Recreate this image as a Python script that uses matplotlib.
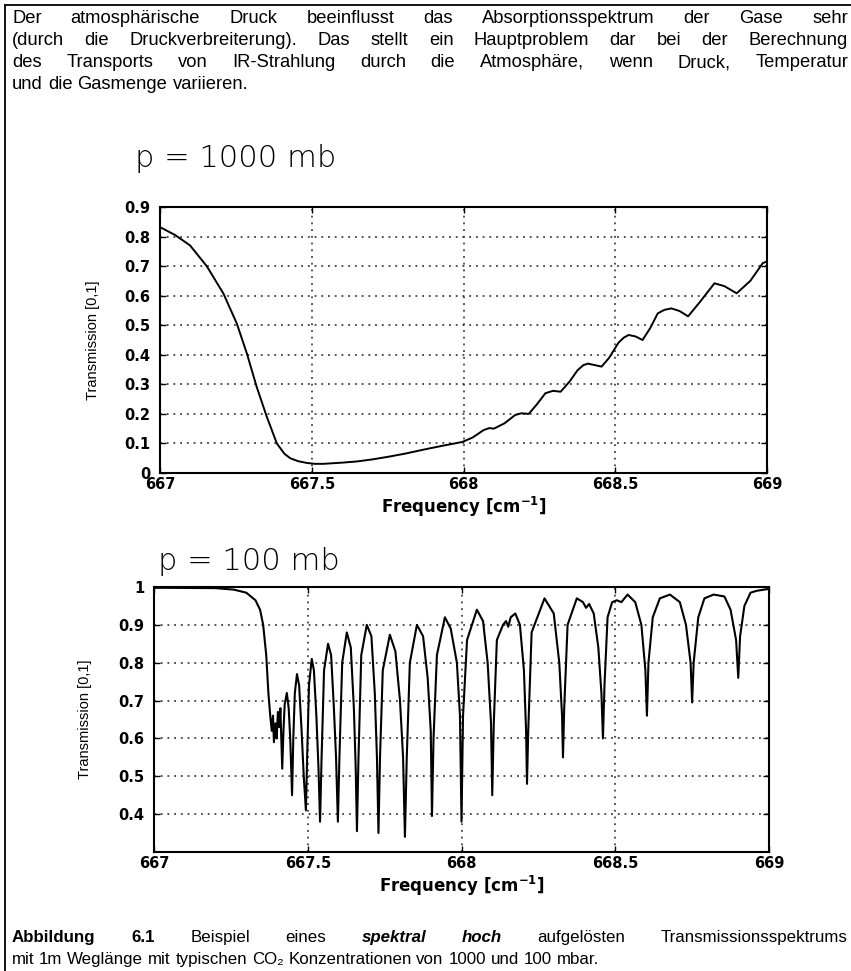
import matplotlib
matplotlib.use("Agg")
import matplotlib.pyplot as plt
import matplotlib.transforms as mtransforms
from matplotlib.lines import Line2D

# ---------------- data ----------------
top_freq = [667.0, 667.05, 667.099, 667.154, 667.209, 667.253, 667.286, 667.319, 667.352,
            667.385, 667.41, 667.429, 667.455, 667.484, 667.51, 667.538, 667.6, 667.648,
            667.7, 667.758, 667.81, 667.868, 667.93, 667.996, 668.03, 668.066, 668.085,
            668.10, 668.135, 668.17, 668.19, 668.215, 668.24, 668.27, 668.295, 668.32,
            668.35, 668.376, 668.395, 668.41, 668.433, 668.455, 668.48, 668.51, 668.528,
            668.544, 668.567, 668.59, 668.615, 668.64, 668.662, 668.685, 668.712, 668.74,
            668.78, 668.827, 668.86, 668.90, 668.945, 668.986, 669.0]
top_trans = [0.832, 0.805, 0.77, 0.70, 0.607, 0.506, 0.405, 0.29, 0.19,
             0.10, 0.065, 0.05, 0.04, 0.034, 0.031, 0.031, 0.035, 0.039,
             0.046, 0.056, 0.066, 0.079, 0.092, 0.105, 0.12, 0.145, 0.152,
             0.15, 0.168, 0.196, 0.202, 0.20, 0.23, 0.27, 0.278, 0.275,
             0.31, 0.348, 0.365, 0.37, 0.365, 0.36, 0.39, 0.44, 0.458,
             0.467, 0.462, 0.45, 0.49, 0.54, 0.552, 0.557, 0.548, 0.53,
             0.58, 0.642, 0.632, 0.608, 0.65, 0.71, 0.716]

bottom_freq = [667.0, 667.2, 667.26, 667.30, 667.33, 667.345, 667.355, 667.365, 667.372, 667.378,
               667.383, 667.387, 667.390, 667.395, 667.399, 667.403, 667.407, 667.411, 667.414,
               667.417, 667.421, 667.425, 667.432, 667.438, 667.443, 667.449, 667.453, 667.458,
               667.465, 667.472, 667.480, 667.487, 667.494, 667.498, 667.504, 667.513, 667.520,
               667.528, 667.535, 667.540, 667.545, 667.553, 667.566, 667.576, 667.585, 667.592,
               667.598, 667.603, 667.612, 667.627, 667.640, 667.650, 667.656, 667.660, 667.665,
               667.674, 667.692, 667.707, 667.718, 667.725, 667.730, 667.735, 667.744, 667.767,
               667.785, 667.800, 667.810, 667.816, 667.822, 667.832, 667.855, 667.875, 667.890,
               667.900, 667.904, 667.909, 667.920, 667.946, 667.965, 667.985, 667.995, 668.0,
               668.005, 668.018, 668.05, 668.07, 668.085, 668.096, 668.10, 668.105, 668.115,
               668.135, 668.145, 668.152, 668.16, 668.175, 668.19, 668.203, 668.210, 668.213,
               668.217, 668.228, 668.27, 668.30, 668.318, 668.327, 668.33, 668.334, 668.345,
               668.375, 668.395, 668.405, 668.415, 668.43, 668.445, 668.455, 668.46, 668.465,
               668.475, 668.49, 668.505, 668.52, 668.54, 668.565, 668.585, 668.598, 668.603,
               668.608, 668.622, 668.645, 668.678, 668.71, 668.73, 668.745, 668.75, 668.755,
               668.77, 668.79, 668.82, 668.855, 668.875, 668.893, 668.90, 668.906, 668.92,
               668.94, 668.96, 669.0]
bottom_trans = [0.998, 0.997, 0.993, 0.985, 0.965, 0.94, 0.90, 0.82, 0.72, 0.66,
                0.62, 0.66, 0.59, 0.64, 0.60, 0.67, 0.63, 0.68, 0.60,
                0.52, 0.62, 0.69, 0.72, 0.68, 0.60, 0.45, 0.60, 0.72,
                0.77, 0.74, 0.62, 0.50, 0.41, 0.55, 0.74, 0.81, 0.78,
                0.66, 0.52, 0.38, 0.55, 0.78, 0.85, 0.82, 0.68, 0.55,
                0.38, 0.55, 0.80, 0.88, 0.84, 0.68, 0.52, 0.355, 0.55,
                0.82, 0.90, 0.87, 0.72, 0.55, 0.35, 0.55, 0.78, 0.874,
                0.83, 0.70, 0.55, 0.34, 0.55, 0.80, 0.90, 0.87, 0.76,
                0.62, 0.395, 0.60, 0.82, 0.92, 0.89, 0.80, 0.66, 0.38,
                0.66, 0.86, 0.94, 0.91, 0.80, 0.64, 0.45, 0.64, 0.86,
                0.90, 0.91, 0.895, 0.92, 0.93, 0.90, 0.78, 0.62, 0.48,
                0.62, 0.88, 0.97, 0.93, 0.80, 0.66, 0.55, 0.68, 0.90,
                0.97, 0.96, 0.945, 0.955, 0.93, 0.84, 0.72, 0.60, 0.74,
                0.92, 0.96, 0.965, 0.96, 0.98, 0.96, 0.90, 0.78, 0.66,
                0.80, 0.92, 0.97, 0.98, 0.96, 0.90, 0.80, 0.695, 0.80,
                0.92, 0.97, 0.98, 0.975, 0.94, 0.86, 0.76, 0.87, 0.95,
                0.985, 0.99, 0.995]

x_ticks = [667, 667.5, 668, 668.5, 669]
x_tick_labels = ["667", "667.5", "668", "668.5", "669"]
top_y_ticks = [0, 0.1, 0.2, 0.3, 0.4, 0.5, 0.6, 0.7, 0.8, 0.9]
top_y_labels = ["0", "0.1", "0.2", "0.3", "0.4", "0.5", "0.6", "0.7", "0.8", "0.9"]
bottom_y_ticks = [0.4, 0.5, 0.6, 0.7, 0.8, 0.9, 1.0]
bottom_y_labels = ["0.4", "0.5", "0.6", "0.7", "0.8", "0.9", "1"]

intro_lines = [
    "Der atmosphärische Druck beeinflusst das Absorptionsspektrum der Gase sehr",
    "(durch die Druckverbreiterung). Das stellt ein Hauptproblem dar bei der Berechnung",
    "des Transports von IR-Strahlung durch die Atmosphäre, wenn Druck, Temperatur",
    "und die Gasmenge variieren.",
]
caption_line1 = [("Abbildung", "bold", "normal"), ("6.1", "bold", "normal"),
                 ("Beispiel", "normal", "normal"), ("eines", "normal", "normal"),
                 ("spektral", "bold", "italic"), ("hoch", "bold", "italic"),
                 ("aufgelösten", "normal", "normal"), ("Transmissionsspektrums", "normal", "normal")]
caption_line2 = "mit 1m Weglänge mit typischen CO₂ Konzentrationen von 1000 und 100 mbar."
title_top = "p = 1000 mb"
title_bottom = "p = 100 mb"
xlabel = r"Frequency [cm$^{\mathbf{-1}}$]"
ylabel = "Transmission [0,1]"

# ---------------- figure ----------------
W, H = 851, 971
fig = plt.figure(figsize=(W / 100, H / 100), dpi=100)
fig.patch.set_facecolor("white")
FAM = ["Liberation Sans", "DejaVu Sans"]
ident = mtransforms.IdentityTransform()


def style_axes(ax, yticks, ylabels, ylim, ylab_x):
    ax.set_xlim(667, 669)
    ax.set_ylim(*ylim)
    ax.set_xticks(x_ticks)
    ax.set_xticklabels(x_tick_labels)
    ax.set_yticks(yticks)
    ax.set_yticklabels(ylabels)
    ax.tick_params(direction="in", length=4, width=1, top=True, right=True,
                   labelsize=10.5)
    ax.tick_params(axis="y", pad=7)
    ax.tick_params(axis="x", pad=3)
    for lab in ax.get_xticklabels() + ax.get_yticklabels():
        lab.set_fontweight("bold")
        lab.set_family("DejaVu Sans")
    ax.grid(True, color="#222222", linestyle=(0, (1.2, 3.2)), linewidth=1.1)
    for s in ax.spines.values():
        s.set_linewidth(1.5)
    ax.set_xlabel(xlabel, fontsize=12, fontweight="bold", family="DejaVu Sans", labelpad=2)
    ax.set_ylabel(ylabel, fontsize=10.5, family=FAM)
    ax.yaxis.set_label_coords(ylab_x, 0.5)


ax1 = fig.add_axes([160 / W, 1 - 473 / H, 607 / W, 266 / H])
ax1.plot(top_freq, top_trans, color="black", linewidth=1.4)
style_axes(ax1, top_y_ticks, top_y_labels, (0, 0.9), -60 / 607)

ax2 = fig.add_axes([154 / W, 1 - 852 / H, 615 / W, 265 / H])
ax2.plot(bottom_freq, bottom_trans, color="black", linewidth=1.5)
style_axes(ax2, bottom_y_ticks, bottom_y_labels, (0.3, 1.0), -62 / 615)

# titles
fig.text(135, H - 167, title_top, transform=ident, fontsize=22, family="DejaVu Sans",
         fontweight="light", va="baseline")
fig.text(158, H - 570, title_bottom, transform=ident, fontsize=22, family="DejaVu Sans",
         fontweight="light", va="baseline")

# border lines
fig.add_artist(Line2D([5 / W, 5 / W], [0, 1 - 5 / H], transform=fig.transFigure,
                      color="black", linewidth=1.3))
fig.add_artist(Line2D([5 / W, 1], [1 - 5 / H, 1 - 5 / H], transform=fig.transFigure,
                      color="black", linewidth=1.3))

fig.canvas.draw()
renderer = fig.canvas.get_renderer()


def justify(words, x0, x1, ybase, size, justify_line=True):
    texts = []
    for w, weight, style in words:
        t = fig.text(0, H - ybase, w, transform=ident, fontsize=size, family=FAM,
                     fontweight=weight, fontstyle=style, va="baseline", ha="left")
        texts.append(t)
    widths = [t.get_window_extent(renderer).width for t in texts]
    if justify_line and len(texts) > 1:
        gap = (x1 - x0 - sum(widths)) / (len(texts) - 1)
    else:
        sp = fig.text(0, 0, "a a", transform=ident, fontsize=size, family=FAM)
        sp2 = fig.text(0, 0, "aa", transform=ident, fontsize=size, family=FAM)
        gap = sp.get_window_extent(renderer).width - sp2.get_window_extent(renderer).width
        sp.remove()
        sp2.remove()
    x = x0
    for t, w in zip(texts, widths):
        t.set_x(x)
        x += w + gap


INTRO_SIZE = 13.2
CAP_SIZE = 12.2
bases = [23, 45, 67, 89]
for i, line in enumerate(intro_lines):
    words = [(w, "normal", "normal") for w in line.split(" ")]
    justify(words, 12, 848, bases[i], INTRO_SIZE, justify_line=(i < 3))

justify(caption_line1, 12, 848, 942, CAP_SIZE, True)
justify([(w, "normal", "normal") for w in caption_line2.split(" ")], 12, 848, 964, CAP_SIZE, False)

fig.savefig("out.png", dpi=100, facecolor="white")
